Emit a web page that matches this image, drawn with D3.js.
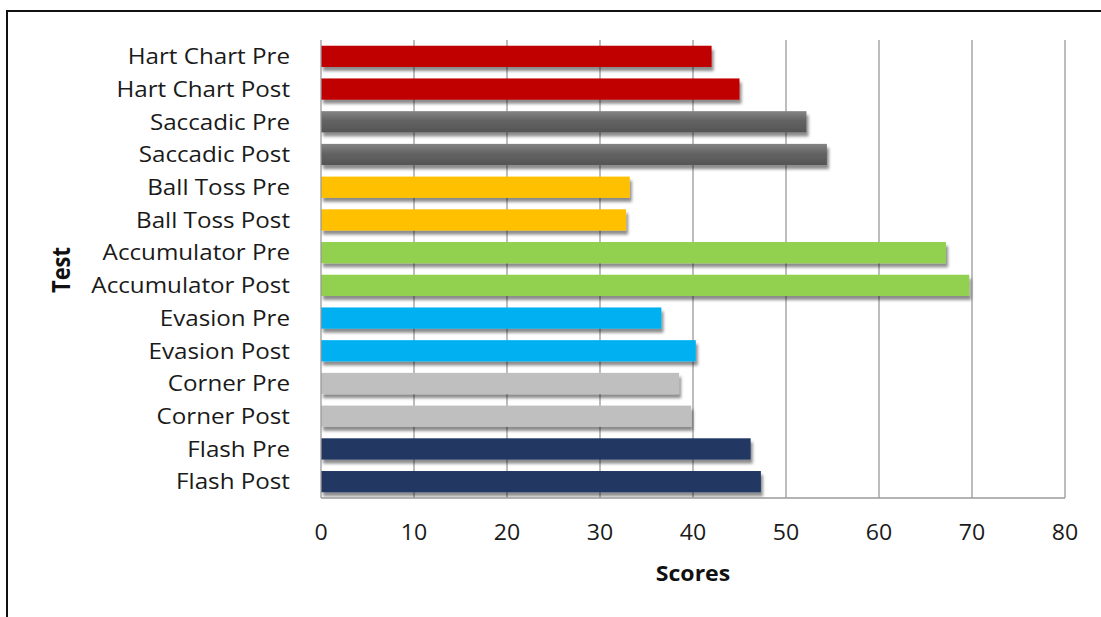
<!DOCTYPE html>
<html>
<head>
<meta charset="utf-8">
<script src="https://cdn.jsdelivr.net/npm/d3@7"></script>
<style>
  body { margin: 0; background: #fff; }
  svg { display: block; font-family: 'Open Sans', sans-serif; }
</style>
</head>
<body>
<svg id="chart" width="1101" height="617"></svg>
<script>
// categories top to bottom
const tests = ['Hart Chart Pre', 'Hart Chart Post', 'Saccadic Pre', 'Saccadic Post',
  'Ball Toss Pre', 'Ball Toss Post', 'Accumulator Pre', 'Accumulator Post',
  'Evasion Pre', 'Evasion Post', 'Corner Pre', 'Corner Post', 'Flash Pre', 'Flash Post'];
const scores = [42, 45, 52.2, 54.4, 33.2, 32.8, 67.2, 69.7, 36.6, 40.3, 38.5, 39.8, 46.2, 47.3];
const colors = ['#C00000', '#C00000', 'url(#gray)', 'url(#gray)', '#FFC000', '#FFC000',
  '#92D050', '#92D050', '#00B0F0', '#00B0F0', '#BFBFBF', '#BFBFBF', '#203864', '#203864'];
const xTicks = [0, 10, 20, 30, 40, 50, 60, 70, 80];

const svg = d3.select('#chart');
const plotL = 321, plotR = 1065, plotT = 40, plotB = 498;
const sx = 1.1; // text looks a bit wide in the original

const x = d3.scaleLinear().domain([0, 80]).range([plotL, plotR]);
const y = d3.scaleBand().domain(tests).range([plotT, plotB]).paddingInner(0.35).paddingOuter(0.175);

const defs = svg.append('defs');
const f = defs.append('filter').attr('id', 'shadow')
  .attr('x', '-5%').attr('y', '-40%').attr('width', '115%').attr('height', '200%');
f.append('feDropShadow').attr('dx', 2).attr('dy', 4).attr('stdDeviation', 1.8)
  .attr('flood-color', '#000').attr('flood-opacity', 0.45);
const grad = defs.append('linearGradient').attr('id', 'gray')
  .attr('x1', 0).attr('y1', 0).attr('x2', 0).attr('y2', 1);
grad.append('stop').attr('offset', '0%').attr('stop-color', '#858585');
grad.append('stop').attr('offset', '45%').attr('stop-color', '#636363');
grad.append('stop').attr('offset', '100%').attr('stop-color', '#555555');

// outer frame
svg.append('path').attr('d', 'M7,617V11H1101')
  .attr('fill', 'none').attr('stroke', '#111').attr('stroke-width', 2);

// gridlines
svg.append('g').selectAll('line').data(xTicks.slice(1)).join('line')
  .attr('x1', d => x(d)).attr('x2', d => x(d))
  .attr('y1', plotT).attr('y2', plotB)
  .attr('stroke', '#9a9a9a').attr('stroke-width', 1.3);

// bars
svg.append('g').selectAll('rect').data(tests).join('rect')
  .attr('x', x(0))
  .attr('y', d => y(d))
  .attr('width', (d, i) => x(scores[i]) - x(0))
  .attr('height', y.bandwidth())
  .attr('fill', (d, i) => colors[i])
  .attr('filter', 'url(#shadow)');

// axis lines
svg.append('line').attr('x1', x(0)).attr('x2', x(0)).attr('y1', plotT).attr('y2', plotB)
  .attr('stroke', '#9a9a9a').attr('stroke-width', 1.3);
svg.append('line').attr('x1', x(0)).attr('x2', plotR).attr('y1', plotB).attr('y2', plotB)
  .attr('stroke', '#9a9a9a').attr('stroke-width', 1.3);

// category labels
svg.append('g').selectAll('text').data(tests).join('text')
  .attr('transform', d => `translate(290,${y(d) + y.bandwidth() / 2}) scale(${sx},1)`)
  .attr('text-anchor', 'end').attr('dy', '0.35em')
  .attr('font-size', 22).attr('fill', '#1a1a1a')
  .text(d => d);

// x tick labels
svg.append('g').selectAll('text').data(xTicks).join('text')
  .attr('transform', d => `translate(${x(d)},540) scale(${sx},1)`)
  .attr('text-anchor', 'middle')
  .attr('font-size', 21).attr('fill', '#1a1a1a')
  .text(d => d);

// axis titles
svg.append('text')
  .attr('transform', `translate(693,581) scale(${sx},1)`)
  .attr('text-anchor', 'middle').attr('font-size', 21).attr('font-weight', 'bold')
  .attr('fill', '#111').text('Scores');
svg.append('text')
  .attr('transform', 'translate(70,270) rotate(-90) scale(1,1.1)')
  .attr('text-anchor', 'middle').attr('font-size', 22).attr('font-weight', 'bold')
  .attr('fill', '#111').text('Test');
</script>
</body>
</html>
